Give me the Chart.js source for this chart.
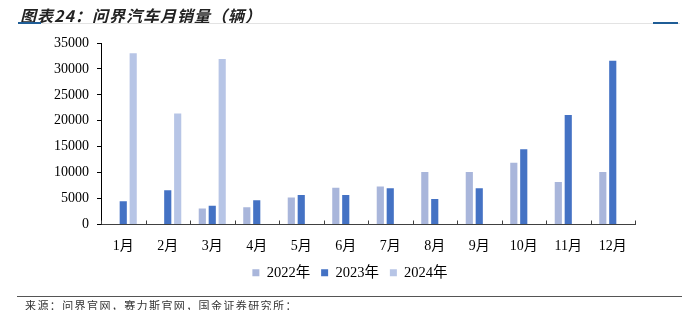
<!DOCTYPE html>
<html>
<head>
<meta charset="utf-8">
<script src="https://cdn.jsdelivr.net/npm/chart.js@4.4.1/dist/chart.umd.min.js"></script>
<style>
    html, body { margin: 0; padding: 0; background: #fff; }
    #wrap { position: relative; width: 700px; height: 310px; overflow: hidden; }
    #chart { position: absolute; left: 0; top: 0; }
    .title {
        position: absolute; left: 20px; top: 3px;
        font-family: "Noto Sans CJK SC", sans-serif;
        font-size: 16px; font-weight: bold; font-style: italic;
        letter-spacing: 1px; color: #222;
    }
    .rule { position: absolute; left: 18px; top: 23px; width: 662px; height: 1px; background: #e3e3e3; }
    .rule-mark { position: absolute; top: 22px; height: 2px; background: #1f5d96; }
    .foot-line { position: absolute; left: 17px; top: 296px; width: 665px; height: 1px; background: #555; }
    .source {
        position: absolute; left: 25px; top: 297px;
        font-family: "Noto Sans CJK SC", sans-serif;
        font-size: 11px; letter-spacing: 1.4px; color: #333;
    }
</style>
</head>
<body>
<div id="wrap">
    <canvas id="chart" width="700" height="310"></canvas>
    <div class="title">图表24：问界汽车月销量（辆）</div>
    <div class="rule"></div>
    <div class="rule-mark" style="left:18px;width:23px"></div>
    <div class="rule-mark" style="left:653px;width:25px"></div>
    <div class="foot-line"></div>
    <div class="source">来源：问界官网，赛力斯官网，国金证券研究所：</div>
</div>
<script>
// Monthly sales (vehicles)
const months = ['1月', '2月', '3月', '4月', '5月', '6月', '7月', '8月', '9月', '10月', '11月', '12月'];
const sales2022 = [null, null, 3100, 3350, 5200, 7100, 7350, 10100, 10100, 11900, 8200, 10100];
const sales2023 = [4500, 6600, 3600, 4700, 5700, 5700, 7000, 4900, 7000, 14500, 21100, 31600];
const sales2024 = [33000, 21400, 31900, null, null, null, null, null, null, null, null, null];
const seriesLabels = ['2022年', '2023年', '2024年'];

const Colors = {
    y2022: '#A9B6DB',
    y2023: '#4472C4',
    y2024: '#B7C5E6',
    axis: '#404040',
    text: '#000'
};

const serif = 'Liberation Serif, "Noto Sans CJK SC", serif';

// small tick marks pointing up from the x axis, between categories
const innerTicks = {
    id: 'innerTicks',
    afterDraw(chart) {
        const { ctx, chartArea } = chart;
        const n = months.length;
        const step = (chartArea.right - chartArea.left) / n;
        ctx.save();
        ctx.strokeStyle = Colors.axis;
        ctx.lineWidth = 1;
        ctx.beginPath();
        for (let i = 0; i <= n; i++) {
            const x = Math.round(chartArea.left + i * step) + 0.5;
            ctx.moveTo(x, chartArea.bottom);
            ctx.lineTo(x, chartArea.bottom - 4);
        }
        ctx.stroke();
        ctx.restore();
    }
};

const bar = (label, data, color) => ({
    label: label,
    data: data,
    backgroundColor: color,
    borderWidth: 0,
    categoryPercentage: 0.67,
    barPercentage: 0.72
});

new Chart(document.getElementById('chart').getContext('2d'), {
    type: 'bar',
    data: {
        labels: months,
        datasets: [
            bar(seriesLabels[0], sales2022, Colors.y2022),
            bar(seriesLabels[1], sales2023, Colors.y2023),
            bar(seriesLabels[2], sales2024, Colors.y2024)
        ]
    },
    options: {
        responsive: false,
        animation: false,
        layout: { padding: { left: 0, right: 0, top: 43, bottom: 20 } },
        plugins: {
            tooltip: { enabled: false },
            legend: {
                position: 'bottom',
                labels: {
                    boxWidth: 7,
                    boxHeight: 7,
                    padding: 11,
                    color: Colors.text,
                    font: { family: serif, size: 14.5 }
                }
            }
        },
        scales: {
            x: {
                grid: { display: false },
                border: { color: Colors.axis, width: 1 },
                ticks: { color: Colors.text, font: { family: serif, size: 14 }, padding: 5, maxRotation: 0 },
                afterFit: (scale) => { scale.height = 30; }
            },
            y: {
                min: 0,
                max: 35000,
                grid: { drawOnChartArea: false, tickLength: 4, color: '#000' },
                border: { color: '#000', width: 1 },
                ticks: {
                    stepSize: 5000,
                    color: Colors.text,
                    font: { family: serif, size: 14 },
                    padding: 8,
                    callback: (v) => String(v)
                },
                afterFit: (scale) => { scale.width = 101; }
            },
            // empty right axis, only reserves the white space on the right
            yRight: {
                position: 'right',
                display: true,
                grid: { display: false },
                border: { display: false },
                ticks: { display: false },
                afterFit: (scale) => { scale.width = 65; }
            }
        }
    },
    plugins: [innerTicks]
});
</script>
</body>
</html>
